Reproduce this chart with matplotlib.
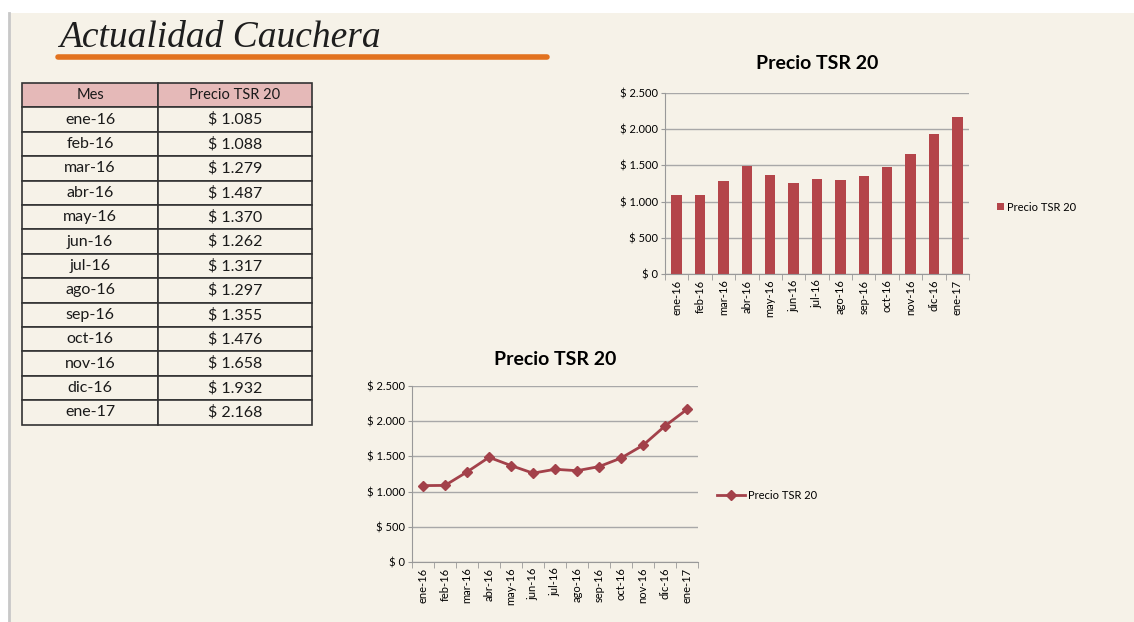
import matplotlib.pyplot as plt
from matplotlib.patches import Rectangle
from matplotlib.ticker import FuncFormatter, FixedLocator

meses = ['ene-16', 'feb-16', 'mar-16', 'abr-16', 'may-16', 'jun-16', 'jul-16',
         'ago-16', 'sep-16', 'oct-16', 'nov-16', 'dic-16', 'ene-17']
precio = [1085, 1088, 1279, 1487, 1370, 1262, 1317, 1297, 1355, 1476, 1658, 1932, 2168]
serie = 'Precio TSR 20'
titulo = 'Actualidad Cauchera'

W, H = 1134, 622
bg = '#f6f2e8'
bar_color = '#b4454a'
line_color = '#a3414a'
grid_color = '#a8a8a8'
font = ['Lato', 'DejaVu Sans']
plt.rcParams['font.family'] = font


def pesos(v, pos=None):
    return '$ ' + f'{int(v):,}'.replace(',', '.')


def box(x0, y0, x1, y1):
    # pixel box -> figure fraction
    return [x0 / W, 1 - y1 / H, (x1 - x0) / W, (y1 - y0) / H]


fig = plt.figure(figsize=(W / 100, H / 100), dpi=100, facecolor='white')

# slide background + title + table on an overlay in pixel coords
bgax = fig.add_axes([0, 0, 1, 1], zorder=0)
bgax.set_xlim(0, W)
bgax.set_ylim(H, 0)
bgax.axis('off')
bgax.add_patch(Rectangle((10, 13), W - 10, H - 13, facecolor=bg, edgecolor='none'))
bgax.plot([9, 9], [13, H], color='#c8c8c8', lw=2)

bgax.text(59, 38, titulo, fontsize=27, family='Liberation Serif', style='italic',
          color='#1e1e1e', va='center', ha='left')
bgax.plot([58, 547], [57, 57], color='#e2721f', lw=4, solid_capstyle='round')

# table
tx0, tx1, tx2 = 22, 158, 312
ty0, rh = 83, 24.4
rows = [('Mes', serie)] + [(m, pesos(p)) for m, p in zip(meses, precio)]
for i, (a, b) in enumerate(rows):
    y = ty0 + i * rh
    fc = '#e5b9b8' if i == 0 else bg
    bgax.add_patch(Rectangle((tx0, y), tx1 - tx0, rh, facecolor=fc, edgecolor='#333333', lw=1.2))
    bgax.add_patch(Rectangle((tx1, y), tx2 - tx1, rh, facecolor=fc, edgecolor='#333333', lw=1.2))
    fs = 10.5 if i == 0 else 11.5
    bgax.text((tx0 + tx1) / 2, y + rh / 2, a, fontsize=fs, ha='center', va='center', color='#1a1a1a')
    bgax.text((tx1 + tx2) / 2, y + rh / 2, b, fontsize=fs, ha='center', va='center', color='#1a1a1a')

x = list(range(len(meses)))


def style_axes(ax):
    ax.set_facecolor('none')
    ax.set_ylim(0, 2500)
    ax.yaxis.set_major_locator(FixedLocator([0, 500, 1000, 1500, 2000, 2500]))
    ax.yaxis.set_major_formatter(FuncFormatter(pesos))
    ax.grid(axis='y', color=grid_color, lw=1)
    ax.set_axisbelow(True)
    for s in ['top', 'right']:
        ax.spines[s].set_visible(False)
    ax.spines['left'].set_color('#999999')
    ax.spines['bottom'].set_color('#999999')
    ax.tick_params(axis='y', labelsize=8, length=3, color='#999999', pad=2)
    ax.set_xlim(-0.5, len(meses) - 0.5)
    ax.set_xticks(x)
    ax.set_xticklabels(meses, rotation=90, fontsize=8)
    ax.tick_params(axis='x', length=0, pad=4)
    ax.set_xticks([i - 0.5 for i in range(len(meses) + 1)], minor=True)
    ax.tick_params(axis='x', which='minor', length=4, color='#999999')


# bar chart
ax1 = fig.add_axes(box(665, 93, 969, 274), zorder=2)
style_axes(ax1)
ax1.bar(x, precio, width=0.45, color=bar_color, label=serie)
ax1.set_title(serie, fontsize=14, fontweight='bold', pad=17)
ax1.legend(loc='center left', bbox_to_anchor=(1.06, 0.37), frameon=False,
           fontsize=8, handlelength=0.6, handleheight=0.6, handletextpad=0.3)

# line chart
ax2 = fig.add_axes(box(412, 386, 698, 562), zorder=2)
style_axes(ax2)
ax2.plot(x, precio, color=line_color, lw=2, marker='D', markersize=5, label=serie)
ax2.set_title(serie, fontsize=14, fontweight='bold', pad=15)
ax2.legend(loc='center left', bbox_to_anchor=(1.03, 0.38), frameon=False,
           fontsize=8, handlelength=2.6, handletextpad=0.2)

fig.savefig('out.png', dpi=100, facecolor='white')
